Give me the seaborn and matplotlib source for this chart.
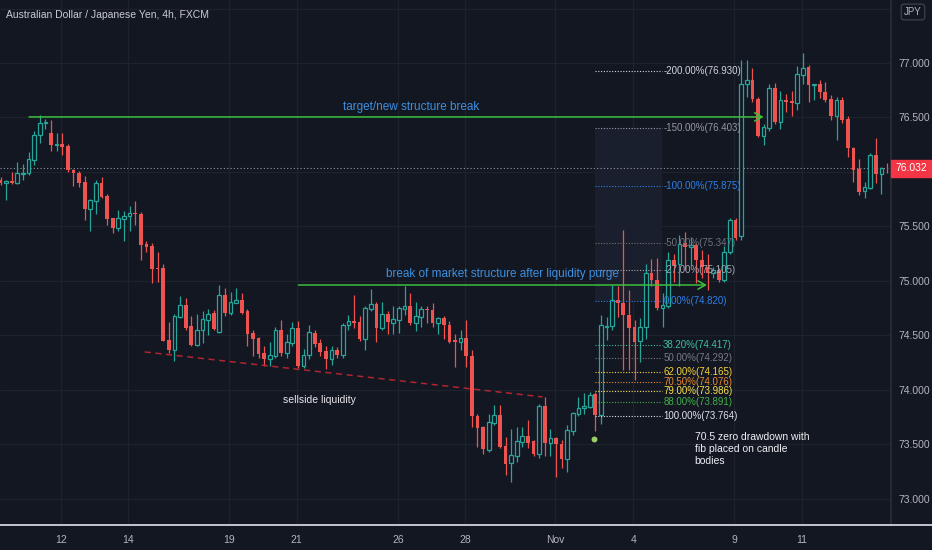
import numpy as np
import matplotlib
matplotlib.use("Agg")
import matplotlib.pyplot as plt
import seaborn as sns
from matplotlib.lines import Line2D
from matplotlib.patches import Rectangle
from matplotlib.transforms import blended_transform_factory

# =========================
# DATA (AUD/JPY 4h candles)
# =========================
opens = [75.93, 75.90, 75.92, 75.90, 75.98, 75.99, 76.11, 76.34, 76.45, 76.36,
         76.25, 76.26, 76.24, 76.02, 75.99, 75.91, 75.66, 75.73, 75.90, 75.78,
         75.58, 75.49, 75.57, 75.60, 75.62, 75.61, 75.34, 75.32, 75.12, 75.12,
         74.46, 74.37, 74.67, 74.78, 74.59, 74.41, 74.55, 74.64, 74.71, 74.53,
         74.87, 74.71, 74.80, 74.83, 74.72, 74.52, 74.48, 74.34, 74.28, 74.31,
         74.55, 74.34, 74.43, 74.57, 74.22, 74.32, 74.52, 74.43, 74.36, 74.28,
         74.37, 74.32, 74.60, 74.63, 74.62, 74.47, 74.74, 74.79, 74.57, 74.70,
         74.61, 74.64, 74.74, 74.77, 74.61, 74.67, 74.74, 74.73, 74.61, 74.66,
         74.60, 74.46, 74.44, 74.48, 74.31, 73.76, 73.66, 73.45, 73.70, 73.77,
         73.49, 73.33, 73.39, 73.52, 73.58, 73.53, 73.41, 73.85, 73.51, 73.56,
         73.50, 73.37, 73.62, 73.78, 73.83, 73.84, 73.96, 73.77, 74.58, 74.59,
         74.83, 74.80, 74.69, 74.58, 74.45, 74.58, 75.07, 75.01, 74.75, 74.77,
         75.19, 75.16, 75.35, 75.31, 75.33, 75.19, 75.13, 75.07, 75.10, 75.01,
         75.27, 75.56, 75.41, 76.81, 76.84, 76.67, 76.33, 76.40, 76.77, 76.46,
         76.66, 76.65, 76.63, 76.89, 76.96, 76.80, 76.81, 76.73, 76.67, 76.51,
         76.66, 76.49, 76.22, 76.03, 75.83, 75.85, 76.16, 75.98, 76.04]
highs = [75.95, 75.93, 76.00, 76.09, 76.07, 76.18, 76.38, 76.52, 76.49, 76.48,
         76.36, 76.36, 76.26, 76.03, 76.01, 75.96, 75.75, 75.93, 75.95, 75.80,
         75.58, 75.65, 75.64, 75.69, 75.73, 75.63, 75.37, 75.35, 75.27, 75.16,
         74.62, 74.70, 74.86, 74.84, 74.68, 74.70, 74.72, 74.74, 74.73, 74.96,
         74.94, 74.90, 74.94, 74.89, 74.74, 74.55, 74.49, 74.40, 74.44, 74.58,
         74.64, 74.51, 74.62, 74.63, 74.38, 74.60, 74.55, 74.47, 74.40, 74.40,
         74.39, 74.61, 74.69, 74.87, 74.68, 74.77, 74.93, 74.81, 74.81, 74.72,
         74.77, 74.77, 74.95, 74.89, 74.81, 74.77, 74.77, 74.80, 74.67, 74.68,
         74.63, 74.51, 74.55, 74.64, 74.37, 73.78, 73.67, 73.78, 73.86, 73.86,
         73.57, 73.64, 73.66, 73.66, 73.72, 73.54, 73.87, 73.94, 73.64, 73.57,
         73.54, 73.68, 73.80, 73.94, 73.97, 73.98, 73.98, 74.69, 74.67, 74.96,
         74.95, 75.47, 74.92, 74.64, 74.66, 75.16, 75.20, 75.21, 74.89, 75.27,
         75.25, 75.42, 75.45, 75.40, 75.35, 75.28, 75.25, 75.13, 75.12, 75.32,
         75.58, 75.58, 77.03, 77.03, 76.95, 76.69, 76.44, 76.81, 76.82, 76.74,
         76.72, 76.74, 76.97, 77.09, 76.98, 76.81, 76.84, 76.83, 76.71, 76.69,
         76.69, 76.51, 76.23, 76.12, 75.91, 76.17, 76.31, 76.05, 76.08]
lows = [75.88, 75.74, 75.89, 75.89, 75.93, 75.97, 76.06, 76.27, 76.39, 76.19,
        76.19, 76.16, 76.00, 75.87, 75.86, 75.56, 75.46, 75.61, 75.76, 75.51,
        75.44, 75.46, 75.37, 75.46, 75.51, 75.19, 75.27, 74.98, 74.99, 74.45,
        74.34, 74.27, 74.66, 74.55, 74.40, 74.40, 74.43, 74.50, 74.55, 74.52,
        74.68, 74.69, 74.80, 74.70, 74.40, 74.31, 74.29, 74.22, 74.22, 74.29,
        74.31, 74.29, 74.40, 74.20, 74.20, 74.28, 74.39, 74.31, 74.19, 74.23,
        74.29, 74.29, 74.55, 74.57, 74.45, 74.37, 74.72, 74.44, 74.55, 74.51,
        74.51, 74.52, 74.69, 74.60, 74.54, 74.58, 74.61, 74.58, 74.51, 74.47,
        74.43, 74.21, 74.37, 74.21, 73.66, 73.48, 73.41, 73.43, 73.68, 73.47,
        73.22, 73.16, 73.34, 73.48, 73.47, 73.39, 73.38, 73.39, 73.39, 73.20,
        73.28, 73.25, 73.59, 73.76, 73.78, 73.83, 73.62, 73.69, 74.46, 74.55,
        74.67, 74.18, 74.18, 74.09, 74.26, 74.47, 74.95, 74.73, 74.58, 74.75,
        74.99, 74.95, 75.10, 75.15, 74.98, 75.03, 74.92, 75.03, 74.99, 74.99,
        75.25, 75.38, 75.38, 76.69, 76.64, 76.32, 76.25, 76.38, 76.44, 76.39,
        76.55, 76.51, 76.57, 76.81, 76.64, 76.66, 76.68, 76.64, 76.48, 76.29,
        76.45, 76.14, 75.91, 75.79, 75.76, 75.84, 75.90, 75.80, 75.99]
closes = [75.90, 75.92, 75.90, 75.99, 75.99, 76.12, 76.34, 76.45, 76.46, 76.25,
          76.26, 76.23, 76.02, 75.99, 75.90, 75.66, 75.74, 75.90, 75.77, 75.57,
          75.49, 75.58, 75.60, 75.62, 75.61, 75.33, 75.31, 75.11, 75.11, 74.45,
          74.37, 74.68, 74.78, 74.57, 74.41, 74.55, 74.65, 74.70, 74.56, 74.87,
          74.71, 74.81, 74.83, 74.71, 74.51, 74.47, 74.33, 74.28, 74.32, 74.55,
          74.34, 74.44, 74.57, 74.22, 74.32, 74.53, 74.42, 74.35, 74.28, 74.37,
          74.32, 74.60, 74.63, 74.61, 74.47, 74.75, 74.79, 74.57, 74.70, 74.62,
          74.65, 74.75, 74.77, 74.61, 74.68, 74.74, 74.73, 74.61, 74.66, 74.60,
          74.44, 74.44, 74.48, 74.31, 73.76, 73.65, 73.46, 73.71, 73.77, 73.48,
          73.32, 73.40, 73.53, 73.58, 73.51, 73.41, 73.85, 73.51, 73.56, 73.50,
          73.37, 73.63, 73.79, 73.83, 73.85, 73.95, 73.77, 74.60, 74.59, 74.83,
          74.80, 74.69, 74.57, 74.44, 74.58, 75.07, 75.01, 74.75, 74.78, 75.19,
          75.15, 75.34, 75.31, 75.33, 75.19, 75.13, 75.07, 75.10, 75.01, 75.27,
          75.56, 75.39, 76.81, 76.84, 76.67, 76.33, 76.41, 76.77, 76.46, 76.66,
          76.64, 76.63, 76.90, 76.95, 76.80, 76.81, 76.73, 76.66, 76.51, 76.66,
          76.48, 76.22, 76.02, 75.82, 75.86, 76.16, 75.98, 76.04, 76.032]

day_labels = ["12", "14", "19", "21", "26", "28", "Nov", "4", "9", "11"]
day_start = [11, 23, 41, 53, 71, 83, 99, 113, 131, 143]
price_ticks = [73.0, 73.5, 74.0, 74.5, 75.0, 75.5, 76.0, 76.5, 77.0, 77.5]
# 76.000 sits under the last-price badge, 77.500 under the JPY box
hidden_ticks = [76.0, 77.5]

fib_levels = [-2.0, -1.5, -1.0, -0.5, -0.27, 0.0, 0.382, 0.5, 0.62, 0.705, 0.79, 0.88, 1.0]
fib_prices = [76.930, 76.403, 75.875, 75.347, 75.105, 74.820, 74.417, 74.292,
              74.165, 74.076, 73.986, 73.891, 73.764]
fib_colors = ["#d1d4dc", "#9598a1", "#2f7fe6", "#6f727c", "#a3a6af", "#2f7fe6",
              "#3fbf9a", "#787b86", "#f5d33b", "#e8892c", "#f9e14b", "#43b049",
              "#e0e3eb"]

last_price = 76.032
target_level = 76.505
bos_level = 74.963
sellside_x = [25.7, 96.6]
sellside_y = [74.349, 73.936]

# =========================
# STYLE
# =========================
BG = "#131722"
GRID = "#1e222d"
UP = "#26a69a"
DOWN = "#ef5350"
AXTXT = "#b2b5be"
GREEN = "#3cbf3c"
BLUE = "#3d8fe0"

sns.set_theme(
    style="dark",
    rc={
        "axes.facecolor": BG,
        "figure.facecolor": BG,
        "axes.edgecolor": GRID,
        "grid.color": GRID,
    }
)
plt.rcParams["font.family"] = ["Liberation Sans", "DejaVu Sans"]

fig = plt.figure(figsize=(9.32, 5.5), dpi=100)
ax = fig.add_axes([0, 25 / 550, 891 / 932, 525 / 550])
ax.set_facecolor(BG)

o = np.array(opens)
h = np.array(highs)
l = np.array(lows)
c = np.array(closes)
idx = np.arange(len(o))
up = c >= o

# =========================
# GRID
# =========================
ticks_x = np.array(day_start) - 0.2
for t in ticks_x:
    ax.axvline(t, color=GRID, lw=0.9, zorder=0)
for p in price_ticks:
    ax.axhline(p, color=GRID, lw=0.9, zorder=0)

# =========================
# CANDLES
# =========================
wick_colors = np.where(up, UP, DOWN)
ax.vlines(idx, l, h, colors=wick_colors, lw=0.9, zorder=2)

body_w = 0.66
dn = ~up
ax.bar(idx[dn], np.maximum(o[dn] - c[dn], 0.008), bottom=c[dn],
       width=body_w, color=DOWN, linewidth=0, zorder=3)
ax.bar(idx[up], np.maximum(c[up] - o[up], 0.008), bottom=o[up],
       width=body_w, facecolor=BG, edgecolor=UP, linewidth=0.9, zorder=3)

# =========================
# LAST PRICE LINE
# =========================
ax.axhline(last_price, color="#9598a1", lw=0.8, ls=(0, (1, 2)), zorder=1)

# =========================
# STRUCTURE LINES
# =========================
ax.annotate("", xy=(136.5, target_level), xytext=(4.6, target_level),
            arrowprops=dict(arrowstyle="->,head_length=0.45,head_width=0.25",
                            color=GREEN, lw=1.1), zorder=5)
ax.text(73.1, 76.596, "target/new structure break", color=BLUE,
        fontsize=8.5, ha="center", va="center", zorder=6)

ax.annotate("", xy=(126.4, bos_level), xytext=(52.6, bos_level),
            arrowprops=dict(arrowstyle="->,head_length=0.45,head_width=0.25",
                            color=GREEN, lw=1.1), zorder=5)
ax.text(89.5, 75.064, "break of market structure after liquidity purge",
        color=BLUE, fontsize=8.5, ha="center", va="center", zorder=6)

sns.lineplot(x=sellside_x, y=sellside_y, ax=ax, color="#b0252f",
             lw=1.1, linestyle=(0, (4, 3)), zorder=4)
ax.text(56.9, 73.908, "sellside liquidity", color="#e8e8ec",
        fontsize=7.5, ha="center", va="center", zorder=6)

# =========================
# FIB RETRACEMENT
# =========================
ax.fill_between([105.9, 117.8], 74.82, 76.403, color="#191f2c", zorder=0.5, lw=0)
for lvl, pr, col in zip(fib_levels, fib_prices, fib_colors):
    ax.hlines(pr, 105.9, 117.8, colors=col, lw=0.8, linestyles=(0, (1, 1.5)), zorder=4)
    ax.text(118.1, pr, f"{lvl * 100:.2f}%({pr:.3f})", color=col,
            fontsize=7, ha="left", va="center", zorder=6)

ax.scatter([105.7], [73.55], s=18, color="#9ccc65", zorder=6, linewidths=0)
ax.text(123.7, 73.61, "70.5 zero drawdown with\nfib placed on candle\nbodies",
        color="#f0f0f4", fontsize=7.5, ha="left", va="top", linespacing=1.25,
        zorder=6)

# =========================
# AXES
# =========================
ax.set_xlim(-0.09, 158.7)
ax.set_ylim(72.761, 77.578)
ax.set_xticks(ticks_x)
ax.set_xticklabels(day_labels)
ax.yaxis.tick_right()
ax.set_yticks(price_ticks)
ax.set_yticklabels(["" if p in hidden_ticks else f"{p:.3f}" for p in price_ticks])
ax.tick_params(axis="both", length=0, colors=AXTXT, labelsize=7.5)
ax.tick_params(axis="x", pad=7)
ax.tick_params(axis="y", pad=5)
ax.grid(False)
for side in ["top", "left", "bottom"]:
    ax.spines[side].set_visible(False)
ax.spines["right"].set_color("#2a2e39")

fig.add_artist(Line2D([0, 1], [25 / 550, 25 / 550], color="#d1d4dc",
                      lw=1.3, transform=fig.transFigure))

# current price badge
tr = blended_transform_factory(fig.transFigure, ax.transData)
fig.add_artist(Rectangle((891 / 932, last_price - 0.082), 41 / 932, 0.164,
                         transform=tr, color="#f23645", zorder=5))
fig.text(911 / 932, last_price, f"{last_price:.3f}", transform=tr,
         color="white", fontsize=7.5, ha="center", va="center", zorder=6)

fig.text(913 / 932, 1 - 12 / 550, "JPY", color=AXTXT, fontsize=7,
         ha="center", va="center", zorder=6,
         bbox=dict(boxstyle="round,pad=0.3", fc=BG, ec="#434651", lw=0.8))

fig.text(6 / 932, 1 - 15 / 550, "Australian Dollar / Japanese Yen, 4h, FXCM",
         color="#c8cbd3", fontsize=7.5, ha="left", va="center")

plt.savefig("out.png", dpi=100, facecolor=BG)
plt.close()
